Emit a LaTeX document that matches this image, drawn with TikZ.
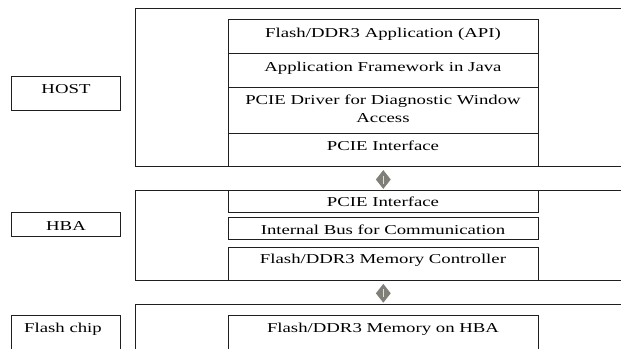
\documentclass[tikz,border=0pt]{standalone}
\usepackage{fontspec}
\usetikzlibrary{shapes.geometric}
\newfontfamily\wserif[FakeStretch=1.38]{Liberation Serif}
\definecolor{linec}{rgb}{0.12,0.12,0.12}
\definecolor{dgray}{RGB}{128,128,120}
\tikzset{
  box/.style={draw=linec, line width=1pt, anchor=north west, inner sep=0pt, outer sep=0pt},
  txt/.style={anchor=base, inner sep=0pt, font=\wserif\fontsize{13.6}{18.3}\selectfont, text=black},
  link/.style={diamond, fill=dgray, draw=none, inner sep=0pt, minimum width=15pt, minimum height=19pt}
}
\begin{document}
\begin{tikzpicture}[x=1pt,y=-1pt]
\clip (0,0) rectangle (621,348);
\fill[white] (0,0) rectangle (621,348);
% outer boxes
\node[box, minimum width=490pt, minimum height=158.4pt] (hostouter) at (135.4,8.3) {};
\node[box, minimum width=490pt, minimum height=90pt] (hbaouter) at (135.4,190.7) {};
\node[box, minimum width=490pt, minimum height=60pt] (flashouter) at (135.4,304) {};
% label boxes
\node[box, minimum width=109.5pt, minimum height=34pt] (hostlbl) at (11,76.3) {};
\node[box, minimum width=109.5pt, minimum height=23.3pt] (hbalbl) at (11,212.7) {};
\node[box, minimum width=109.5pt, minimum height=45pt] (flashlbl) at (11,315) {};
% host stack
\node[box, minimum width=310pt, minimum height=34pt] (api) at (228,19.3) {};
\node[box, minimum width=310pt, minimum height=34.4pt] (fw) at (228,53.3) {};
\node[box, minimum width=310pt, minimum height=45.6pt] (drv) at (228,87.7) {};
\node[box, minimum width=310pt, minimum height=33.4pt] (pcieh) at (228,133.3) {};
% hba stack
\node[box, minimum width=310pt, minimum height=22pt] (pcieb) at (228,190.7) {};
\node[box, minimum width=310pt, minimum height=22pt] (bus) at (228,217.3) {};
\node[box, minimum width=310pt, minimum height=33.4pt] (ctrl) at (228,247.3) {};
% flash
\node[box, minimum width=310pt, minimum height=45pt] (mem) at (228,315) {};
% texts
\node[txt] (t-host) at (66,93.8) {HOST};
\node[txt] (t-hba) at (66,230.2) {HBA};
\node[txt] (t-flash) at (63,332) {Flash chip};
\node[txt] (t-api) at (383,37.8) {Flash/DDR3 Application (API)};
\node[txt] (t-fw) at (383,71.2) {Application Framework in Java};
\node[txt] (t-drv1) at (383,104.5) {PCIE Driver for Diagnostic Window};
\node[txt] (t-drv2) at (383,122.8) {Access};
\node[txt] (t-pcieh) at (383,150.5) {PCIE Interface};
\node[txt] (t-pcieb) at (383,206.8) {PCIE Interface};
\node[txt] (t-bus) at (383,234) {Internal Bus for Communication};
\node[txt] (t-ctrl) at (383,263.5) {Flash/DDR3 Memory Controller};
\node[txt] (t-mem) at (383,332) {Flash/DDR3 Memory on HBA};
% connectors
\node[link] (l1) at (383.3,179.5) {};
\node[link] (l2) at (383.3,293.3) {};
\draw[white!75!dgray, line width=1.4pt] (l1.center) ++(0,-4) -- ++(0,8);
\draw[white!75!dgray, line width=1.4pt] (l2.center) ++(0,-4) -- ++(0,8);
\end{tikzpicture}
\end{document}
